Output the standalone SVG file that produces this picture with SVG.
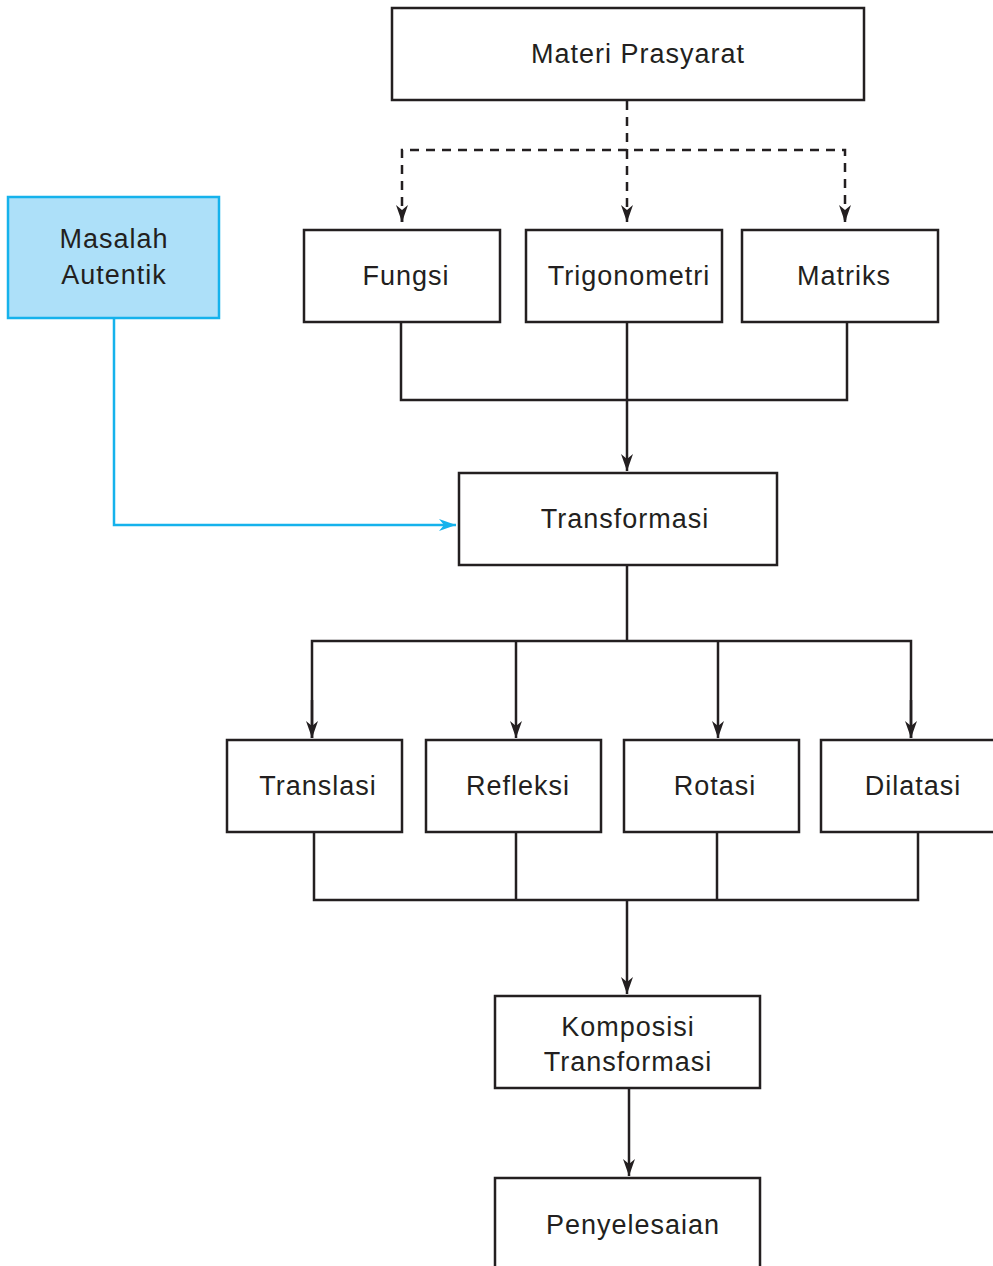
<svg xmlns="http://www.w3.org/2000/svg" width="993" height="1266" viewBox="0 0 993 1266">
<style>
.box{fill:#fff;stroke:#231f20;stroke-width:2.5}
.blue{fill:#ade0f9;stroke:#15b2ec;stroke-width:2.5}
.t{font-family:"Liberation Sans",Arial,sans-serif;font-size:27px;letter-spacing:1px;fill:#231f20;text-anchor:middle}
.c{fill:none;stroke:#231f20;stroke-width:2.5}
.d{fill:none;stroke:#231f20;stroke-width:2.5;stroke-dasharray:9,7}
.cb{fill:none;stroke:#15b2ec;stroke-width:2.5}
</style>
<defs>
<marker id="ah" markerUnits="userSpaceOnUse" viewBox="-18 -7 20 14" refX="0" refY="0" markerWidth="20" markerHeight="14" orient="auto">
<path d="M0,0 L-17,-6 L-12,0 L-17,6 Z" fill="#231f20"/>
</marker>
<marker id="ahb" markerUnits="userSpaceOnUse" viewBox="-18 -7 20 14" refX="0" refY="0" markerWidth="20" markerHeight="14" orient="auto">
<path d="M0,0 L-17,-6 L-12,0 L-17,6 Z" fill="#15b2ec"/>
</marker>
</defs>
<g id="connectors">
<path class="d" d="M627,101 V150"/>
<path class="d" d="M402,222 V150 H845 V222"/>
<path class="d" d="M627,150 V222" marker-end="url(#ah)"/>
<path class="c" d="M402,210 V222" marker-end="url(#ah)"/>
<path class="c" d="M845,210 V222" marker-end="url(#ah)"/>
<path class="c" d="M401,323 V400 H847 V323"/>
<path class="c" d="M627,323 V471" marker-end="url(#ah)"/>
<path class="cb" d="M114,319 V525 H456" marker-end="url(#ahb)"/>
<path class="c" d="M627,566 V641"/>
<path class="c" d="M312,738 V641 H911 V738"/>
<path class="c" d="M312,700 V738" marker-end="url(#ah)"/>
<path class="c" d="M911,700 V738" marker-end="url(#ah)"/>
<path class="c" d="M516,641 V738" marker-end="url(#ah)"/>
<path class="c" d="M718,641 V738" marker-end="url(#ah)"/>
<path class="c" d="M314,833 V900 H918 V833"/>
<path class="c" d="M516,833 V900"/>
<path class="c" d="M717,833 V900"/>
<path class="c" d="M627,900 V994" marker-end="url(#ah)"/>
<path class="c" d="M629,1089 V1176" marker-end="url(#ah)"/>
</g>
<g id="materi"><rect class="box" x="392" y="8" width="472" height="92"/><text class="t" x="638" y="63">Materi Prasyarat</text></g>
<g id="masalah"><rect class="blue" x="8" y="197" width="211" height="121"/><text class="t" x="114" y="248">Masalah</text><text class="t" x="114" y="284">Autentik</text></g>
<g id="fungsi"><rect class="box" x="304" y="230" width="196" height="92"/><text class="t" x="406" y="285">Fungsi</text></g>
<g id="trigonometri"><rect class="box" x="526" y="230" width="196" height="92"/><text class="t" x="629" y="285">Trigonometri</text></g>
<g id="matriks"><rect class="box" x="742" y="230" width="196" height="92"/><text class="t" x="844" y="285">Matriks</text></g>
<g id="transformasi"><rect class="box" x="459" y="473" width="318" height="92"/><text class="t" x="625" y="528">Transformasi</text></g>
<g id="translasi"><rect class="box" x="227" y="740" width="175" height="92"/><text class="t" x="318" y="795">Translasi</text></g>
<g id="refleksi"><rect class="box" x="426" y="740" width="175" height="92"/><text class="t" x="518" y="795">Refleksi</text></g>
<g id="rotasi"><rect class="box" x="624" y="740" width="175" height="92"/><text class="t" x="715" y="795">Rotasi</text></g>
<g id="dilatasi"><rect class="box" x="821" y="740" width="190" height="92"/><text class="t" x="913" y="795">Dilatasi</text></g>
<g id="komposisi"><rect class="box" x="495" y="996" width="265" height="92"/><text class="t" x="628" y="1036">Komposisi</text><text class="t" x="628" y="1071">Transformasi</text></g>
<g id="penyelesaian"><rect class="box" x="495" y="1178" width="265" height="100"/><text class="t" x="633" y="1234">Penyelesaian</text></g>
</svg>
